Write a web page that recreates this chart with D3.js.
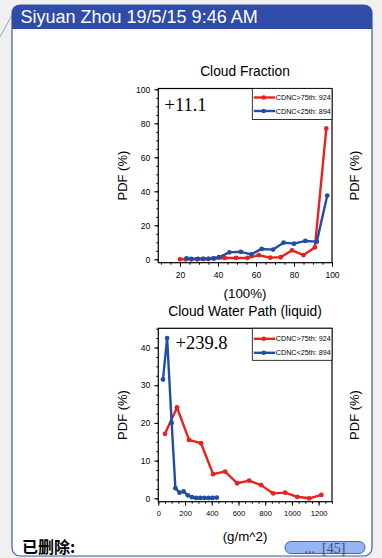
<!DOCTYPE html>
<html><head><meta charset="utf-8">
<script src="https://cdn.jsdelivr.net/npm/d3@7"></script>
<style>
html,body{margin:0;padding:0;background:#f0f0f0;}
svg{display:block;}
</style></head>
<body>
<svg id="c" width="382" height="558" font-family="Liberation Sans, Arial, sans-serif"></svg>
<script>
// ---- data ----
const headerText = "Siyuan Zhou 19/5/15 9:46 AM";
const legendLabels = ["CDNC>75th: 924", "CDNC<25th: 894"];
const seriesColors = ["#e8221e", "#1f4ea6"];

const cfTitle = "Cloud Fraction";
const cfUnits = "(100%)";
const cfNote = "+11.1";
const cfX_red = [20, 23, 26, 29, 32, 35, 38, 43.5, 49.5, 55.5, 61.5, 67.5, 73, 79, 85, 91, 97];
const cfY_red = [0, 0, 0, 0, 0.2, 0.3, 0.4, 0.8, 0.8, 0.8, 2.4, 1.0, 1.2, 5.3, 2.5, 7.0, 77];
const cfX_blue = [23.5, 26, 29.5, 32.5, 35, 37.5, 40.5, 46, 52, 57.5, 63, 69, 74.5, 80, 86, 92, 97.5];
const cfY_blue = [0.5, 0.3, 0.3, 0.2, 0.3, 0.6, 1.2, 4.1, 4.4, 2.9, 6.1, 5.7, 9.8, 9.2, 10.8, 10.4, 37.5];
const cfXTicks = [20, 40, 60, 80, 100];
const cfYTicks = [0, 20, 40, 60, 80, 100];

const lwpTitle = "Cloud Water Path (liquid)";
const lwpUnits = "(g/m^2)";
const lwpNote = "+239.8";
const lwpX_red = [50, 140, 230, 320, 410, 500, 590, 680, 770, 860, 950, 1040, 1130, 1220];
const lwpY_red = [17.1, 24.1, 15.5, 14.6, 6.4, 7.1, 4.0, 4.7, 3.5, 1.3, 1.5, 0.4, 0.0, 0.9];
const lwpX_blue = [35, 66, 100, 128, 159, 190, 221, 252, 283, 314, 345, 376, 407, 438];
const lwpY_blue = [31.5, 42.5, 20.0, 2.7, 1.5, 1.8, 0.8, 0.3, 0.1, 0.1, 0.1, 0.1, 0.1, 0.2];
const lwpXTicks = [0, 200, 400, 600, 800, 1000, 1200];
const lwpYTicks = [0, 10, 20, 30, 40];

const yLabel = "PDF (%)";
const footerLabel = "已删除:";
const footerButton = "...  [45]";

// ---- drawing ----
const svg = d3.select("#c");
const SERIF = "Liberation Serif, 'Times New Roman', serif";

// thread line and panel
svg.append("line").attr("x1",0).attr("y1",37).attr("x2",12).attr("y2",15)
  .attr("stroke","#8fa3cf").attr("stroke-width",1);
svg.append("rect").attr("x",12).attr("y",5).attr("width",360).attr("height",551)
  .attr("rx",8).attr("fill","#fff").attr("stroke","#3a58ad").attr("stroke-width",1.2);
svg.append("path")
  .attr("d","M12,29 L12,13 Q12,5 20,5 L364,5 Q372,5 372,13 L372,29 Z")
  .attr("fill","#2f4ca6");
svg.append("text").attr("x",20.5).attr("y",23).attr("fill","#fff")
  .attr("font-size",18).text(headerText);

function panel(o){
  const g = svg.append("g");
  const x = d3.scaleLinear().domain(o.xDom).range([158.3, 332]);
  const y = d3.scaleLinear().domain(o.yDom).range([o.bottom, o.top]);
  // frame
  g.append("rect").attr("x",158.3).attr("y",o.top).attr("width",332-158.3)
    .attr("height",o.bottom-o.top).attr("fill","none").attr("stroke","#000").attr("stroke-width",1.2);
  // axes
  const xa = g.append("g").attr("transform",`translate(0,${o.bottom})`)
    .call(d3.axisBottom(x).tickValues(o.xTicks).tickSize(4).tickPadding(5).tickFormat(d3.format("d")));
  const xm = g.append("g").attr("transform",`translate(0,${o.bottom})`)
    .call(d3.axisBottom(x).tickValues(d3.range(o.xMinor[0], o.xMinor[1]+0.001, o.xMinor[2])).tickSize(2).tickFormat(""));
  const ya = g.append("g").attr("transform",`translate(158.3,0)`)
    .call(d3.axisLeft(y).tickValues(o.yTicks).tickSize(4).tickPadding(4).tickFormat(d3.format("d")));
  const ym = g.append("g").attr("transform",`translate(158.3,0)`)
    .call(d3.axisLeft(y).tickValues(d3.range(o.yMinor[0], o.yMinor[1]+0.001, o.yMinor[2])).tickSize(2).tickFormat(""));
  [xa,xm,ya,ym].forEach(a=>{a.select(".domain").remove();
    a.selectAll("line").attr("stroke","#000").attr("stroke-width",1);
    a.selectAll("text").attr("fill","#000").attr("font-family","Liberation Sans, Arial, sans-serif");});
  xa.selectAll("text").attr("font-size",o.xTickFont);
  ya.selectAll("text").attr("font-size",8.5);
  // titles
  g.append("text").attr("x",245).attr("y",o.titleY).attr("text-anchor","middle")
    .attr("font-size",13.8).text(o.title);
  g.append("text").attr("x",245).attr("y",o.unitsY).attr("text-anchor","middle")
    .attr("font-size",13.3).text(o.units);
  const cy = (o.top+o.bottom)/2;
  g.append("text").attr("transform",`translate(127,${cy}) rotate(-90)`).attr("text-anchor","middle")
    .attr("font-size",13).text(yLabel);
  g.append("text").attr("transform",`translate(359,${cy}) rotate(-90)`).attr("text-anchor","middle")
    .attr("font-size",13).text(yLabel);
  // note
  g.append("text").attr("x",o.noteX).attr("y",o.noteY).attr("font-family",SERIF)
    .attr("font-size",18.5).text(o.note);
  // series
  const line = d3.line().x(d=>x(d[0])).y(d=>y(d[1]));
  o.series.forEach((s,i)=>{
    const pts = s.xs.map((v,j)=>[v,s.ys[j]]);
    g.append("path").datum(pts).attr("d",line).attr("fill","none")
      .attr("stroke",seriesColors[i]).attr("stroke-width",2.4).attr("stroke-linejoin","round");
    g.selectAll(null).data(pts).enter().append("circle")
      .attr("cx",d=>x(d[0])).attr("cy",d=>y(d[1])).attr("r",2.4).attr("fill",seriesColors[i]);
  });
  // legend
  const lx = 252.3, ly = o.top;
  g.append("rect").attr("x",lx).attr("y",ly).attr("width",332-lx).attr("height",o.legH)
    .attr("fill","#fff").attr("stroke","#000").attr("stroke-width",0.8);
  legendLabels.forEach((t,i)=>{
    const yy = ly + o.legRow[i];
    g.append("line").attr("x1",lx+1.5).attr("x2",lx+23).attr("y1",yy).attr("y2",yy)
      .attr("stroke",seriesColors[i]).attr("stroke-width",2.4);
    g.append("circle").attr("cx",lx+11.5).attr("cy",yy).attr("r",2.2).attr("fill",seriesColors[i]);
    g.append("text").attr("x",lx+23.5).attr("y",yy+2.5).attr("font-size",7.2).text(t);
  });
}

panel({xDom:[8.6,100], yDom:[-2,100.5], top:88.5, bottom:262.7,
  xTicks:cfXTicks, yTicks:cfYTicks, xMinor:[10,100,5], yMinor:[0,100,5], xTickFont:8.5,
  title:cfTitle, titleY:76, units:cfUnits, unitsY:297.5, note:cfNote, noteX:164.5, noteY:110.5,
  legH:31, legRow:[9,22.5],
  series:[{xs:cfX_red, ys:cfY_red},{xs:cfX_blue, ys:cfY_blue}]});

panel({xDom:[0,1300], yDom:[-0.9,45.1], top:328.3, bottom:501.7,
  xTicks:lwpXTicks, yTicks:lwpYTicks, xMinor:[0,1300,50], yMinor:[0,45,2.5], xTickFont:7.6,
  title:lwpTitle, titleY:315.5, units:lwpUnits, unitsY:541, note:lwpNote, noteX:175.5, noteY:348.5,
  legH:32, legRow:[10.5,24.5],
  series:[{xs:lwpX_red, ys:lwpY_red},{xs:lwpX_blue, ys:lwpY_blue}]});

// footer
svg.append("text").attr("x",22).attr("y",553).attr("font-size",16).attr("font-weight","bold")
  .attr("font-family","Noto Sans CJK SC, sans-serif").text(footerLabel);
svg.append("rect").attr("x",285).attr("y",541.5).attr("width",80).attr("height",12).attr("rx",6)
  .attr("fill","#95b4f2").attr("stroke","#3e63c4").attr("stroke-width",1);
svg.append("text").attr("x",325).attr("y",552.5).attr("text-anchor","middle").attr("font-size",14)
  .attr("fill","#3b4a73").attr("font-family",SERIF).attr("xml:space","preserve").text(footerButton);
</script>
</body></html>
